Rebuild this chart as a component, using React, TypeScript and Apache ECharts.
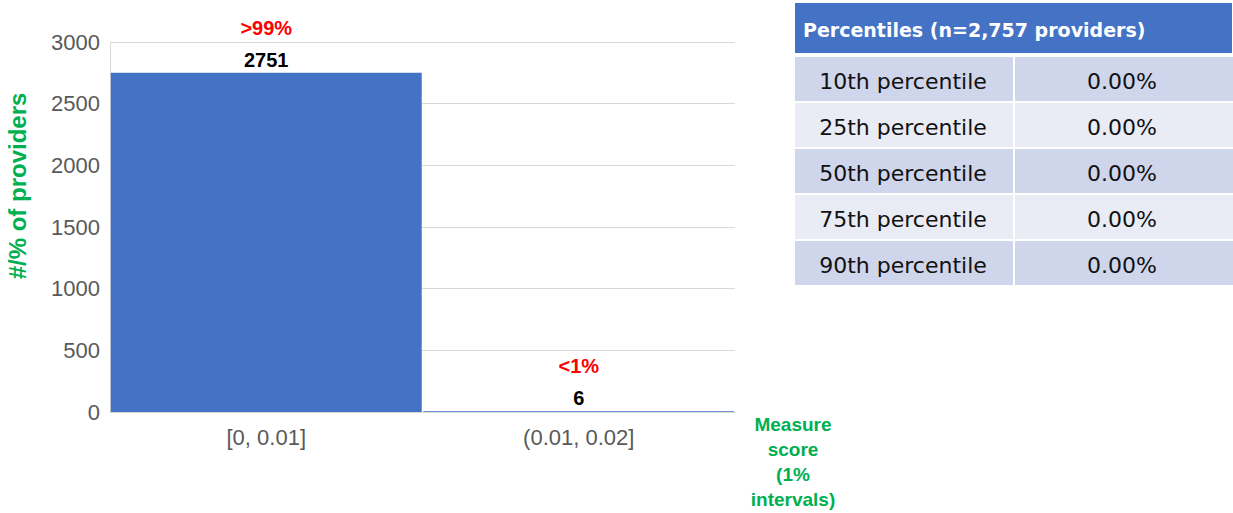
import React, { useEffect, useRef } from "react";
import * as echarts from "echarts";

const categories = ["[0, 0.01]", "(0.01, 0.02]"];
const counts = [2751, 6];
const shares = [">99%", "<1%"];
const yTicks = { min: 0, max: 3000, interval: 500 };
const tableTitle = "Percentiles (n=2,757 providers)";
const percentileNames = ["10th percentile", "25th percentile", "50th percentile", "75th percentile", "90th percentile"];
const percentileValues = ["0.00%", "0.00%", "0.00%", "0.00%", "0.00%"];

export default function App() {
  const ref = useRef<HTMLDivElement>(null);
  useEffect(() => {
    if (!ref.current) return;
    const chart = echarts.init(ref.current, null, { renderer: "svg" });
    const tableX = 795;
    const col1W = 218;
    const col2X = 1015;
    const col2W = 218;
    const rowTop = 57;
    const rowH = 44;
    const rowPitch = 46;
    const rowColors = ["#cfd5ea", "#e9ebf5"];
    const tableFont = "DejaVu Sans";
    const graphics: any[] = [
      {
        type: "rect",
        shape: { x: tableX, y: 3, width: 437, height: 50 },
        style: { fill: "#4472c4" },
      },
      {
        type: "text",
        style: {
          x: tableX + 8,
          y: 30,
          text: tableTitle,
          fill: "#ffffff",
          font: `bold 19px "${tableFont}"`,
          textVerticalAlign: "middle",
          textAlign: "left",
        },
      },
    ];
    percentileNames.forEach((name, i) => {
      const y = rowTop + i * rowPitch;
      graphics.push(
        { type: "rect", shape: { x: tableX, y, width: col1W, height: rowH }, style: { fill: rowColors[i % 2] } },
        { type: "rect", shape: { x: col2X, y, width: col2W, height: rowH }, style: { fill: rowColors[i % 2] } },
        {
          type: "text",
          style: {
            x: tableX + col1W / 2 - 1,
            y: y + rowH / 2 + 2,
            text: name,
            fill: "#111111",
            font: `22px "${tableFont}"`,
            textAlign: "center",
            textVerticalAlign: "middle",
          },
        },
        {
          type: "text",
          style: {
            x: col2X + col2W / 2 - 2,
            y: y + rowH / 2 + 2,
            text: percentileValues[i],
            fill: "#111111",
            font: `22px "${tableFont}"`,
            textAlign: "center",
            textVerticalAlign: "middle",
          },
        }
      );
    });
    graphics.push({
      type: "text",
      x: 17,
      y: 186,
      rotation: Math.PI / 2,
      style: {
        x: 0,
        y: 0,
        text: "#/% of providers",
        fill: "#00b050",
        font: 'bold 24px "Liberation Sans"',
        textAlign: "center",
        textVerticalAlign: "middle",
      },
    });
    graphics.push({
      type: "text",
      style: {
        x: 793,
        y: 462,
        text: "Measure\nscore\n(1%\nintervals)",
        fill: "#00b050",
        font: 'bold 19px "Liberation Sans"',
        lineHeight: 25,
        textAlign: "center",
        textVerticalAlign: "middle",
      },
    });

    chart.setOption({
      animation: false,
      grid: { left: 110, top: 42, right: 498, bottom: 101, containLabel: false },
      xAxis: {
        type: "category",
        data: categories,
        axisLine: { show: true, lineStyle: { color: "#d9d9d9", width: 1 } },
        axisTick: { show: false },
        axisLabel: { color: "#595959", fontSize: 22, fontFamily: "Liberation Sans", margin: 14 },
      },
      yAxis: {
        type: "value",
        min: yTicks.min,
        max: yTicks.max,
        interval: yTicks.interval,
        axisLine: { show: true, lineStyle: { color: "#d9d9d9", width: 1 } },
        axisTick: { show: false },
        splitLine: { lineStyle: { color: "#d9d9d9", width: 1 } },
        axisLabel: {
          color: "#595959",
          fontSize: 22,
          fontFamily: "Liberation Sans",
          margin: 10,
          formatter: (v: number) => String(v),
        },
      },
      series: [
        {
          type: "bar",
          data: counts,
          barWidth: "99.5%",
          itemStyle: { color: "#4472c4" },
          label: {
            show: true,
            position: "top",
            distance: 3,
            formatter: (p: any) => `{p|${shares[p.dataIndex]}}\n{v|${p.value}}`,
            rich: {
              p: { color: "#ff0000", fontWeight: "bold", fontSize: 20, fontFamily: "Liberation Sans", lineHeight: 44 },
              v: { color: "#000000", fontWeight: "bold", fontSize: 20, fontFamily: "Liberation Sans", lineHeight: 20 },
            },
          },
        },
      ],
      graphic: graphics,
    });
    return () => chart.dispose();
  }, []);
  return (
    <div
      ref={ref}
      style={{ position: "fixed", left: 0, top: 0, width: 1233, height: 513, background: "#ffffff" }}
    />
  );
}
